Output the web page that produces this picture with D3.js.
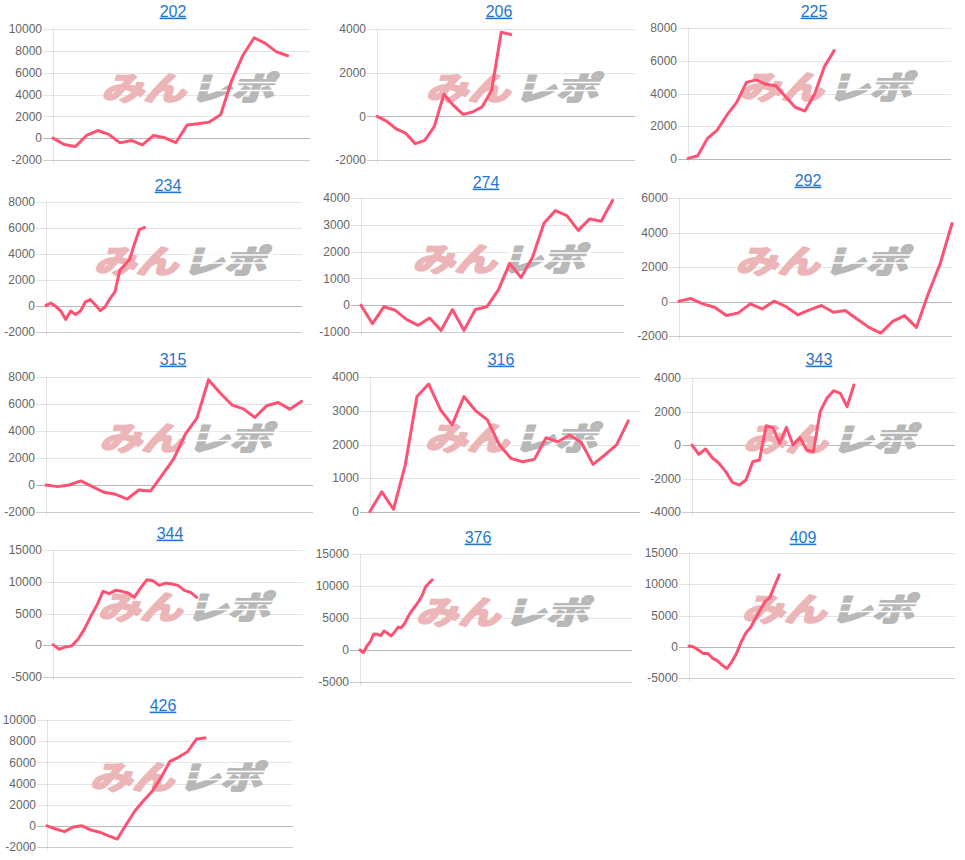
<!DOCTYPE html>
<html><head><meta charset="utf-8">
<script src="https://cdn.jsdelivr.net/npm/d3@7/dist/d3.min.js"></script>
<style>
body{margin:0;background:#fff;}
svg{display:block;}
</style></head><body>
<svg id="c" width="965" height="860"></svg>
<script>
// ---- data ----
const titles = ["202","206","225","234","274","292","315","316","343","344","376","409","426"];
const xLabelCounts = [24,28,28,53,24,24,24,24,40,41,80,57,29];
const yTickMin  = [-2000,-2000,0,-2000,-1000,-2000,-2000,0,-4000,-5000,-5000,-5000,-2000];
const yTickMax  = [10000,4000,8000,8000,4000,6000,8000,4000,4000,15000,15000,15000,10000];
const yTickStep = [2000,2000,2000,2000,1000,2000,2000,1000,2000,5000,5000,5000,2000];

const s202 = [0,-580,-770,250,700,340,-430,-210,-610,250,30,-400,1200,1320,1470,2150,5300,7600,9200,8680,7900,7550];
const s206 = [0,-220,-570,-770,-1250,-1100,-460,1010,500,90,200,430,1200,3850,3750];
const s225 = [40,200,1260,1770,2690,3460,4680,4830,4560,4480,3810,3160,2930,3970,5640,6620];
const s234 = [50,230,-30,-390,-1030,-390,-650,-390,310,490,100,-340,-80,570,1080,2760,3150,3590,4830,5900,6040];
const s274 = [0,-690,-60,-190,-540,-750,-480,-940,-160,-940,-160,-60,560,1560,1030,1790,3060,3530,3340,2790,3220,3130,3910];
const s292 = [20,170,-140,-330,-810,-660,-140,-430,20,-290,-770,-490,-230,-620,-520,-1010,-1500,-1830,-1150,-820,-1500,450,2190,4520];
const s315 = [0,-120,0,300,-120,-540,-690,-1040,-370,-450,740,1930,3760,4950,7800,6810,5940,5640,5000,5870,6110,5620,6190];
const s316 = [20,600,80,1390,3420,3790,3030,2580,3420,3000,2730,2000,1590,1490,1560,2200,2080,2280,2060,1410,1690,1990,2700];
const s343 = [0,-560,-240,-760,-1090,-1590,-2230,-2390,-2090,-1000,-900,1150,1030,100,1050,0,440,-300,-400,1990,2790,3240,3080,2290,3580];
const s344 = [100,-620,-260,-100,940,2500,4480,6250,8490,8130,8650,8490,8230,7550,9010,10310,10160,9430,9790,9640,9430,8650,8330,7550];
const s376 = [0,-420,630,1310,2510,2460,2250,2980,2610,2200,2770,3550,3500,4180,5230,6120,6800,7580,8470,9830,10450,10980];
const s409 = [110,-50,-540,-1070,-1070,-1870,-2250,-2950,-3480,-2410,-1070,800,2250,3110,4550,5890,7230,7870,9750,11510];
const s426 = [0,-300,-550,-100,0,-400,-600,-950,-1250,100,1400,2400,3300,4600,6100,6500,7000,8200,8300];
const seriesValues = [s202,s206,s225,s234,s274,s292,s315,s316,s343,s344,s376,s409,s426];

// ---- layout (plot boxes: left, right, top, bottom; title x, y) ----
const layout = [
  [53,310,29,160,173,11],[377,635,29,160,499,11],[688,951,28,159,814,11],
  [46,302,202,332,168,185],[361,624,198,332,486,182],[679,952,198,336,808,180],
  [46,313,377,512,173,359],[370,640,377,512,501,359],[692,955,378,512,819,359],
  [53,303,550,677,170,533],[360,632,554,682,478,537],[689,955,553,678,803,537],
  [47,293,720,847,163,705]
];

const svg = d3.select("#c");
const LINE = "#ff5272";

titles.forEach((t,i)=>{
  const [L,R,T,B,tx,ty] = layout[i];
  const g = svg.append("g");
  const y = d3.scaleLinear().domain([yTickMin[i], yTickMax[i]]).range([B,T]);
  const x = d3.scaleLinear().domain([0, xLabelCounts[i]-1]).range([L,R]);
  const ticks = d3.range(yTickMin[i], yTickMax[i]+1, yTickStep[i]);

  // gridlines
  g.selectAll("line.grid").data(ticks).join("line")
    .attr("x1", L-10).attr("x2", R)
    .attr("y1", d=>Math.round(y(d))+0.5).attr("y2", d=>Math.round(y(d))+0.5)
    .attr("stroke", d=> d===0 ? "rgba(0,0,0,0.28)" : (d===yTickMin[i] ? "rgba(0,0,0,0.2)" : "rgba(0,0,0,0.1)"))
    .attr("stroke-width",1);
  // left axis line
  g.append("line").attr("x1",Math.round(L)+0.5).attr("x2",Math.round(L)+0.5)
    .attr("y1",T).attr("y2",B+4).attr("stroke","rgba(0,0,0,0.1)");

  // tick labels
  g.selectAll("text.tick").data(ticks).join("text")
    .attr("x", L-11).attr("y", d=>y(d))
    .attr("dy","0.35em").attr("text-anchor","end")
    .attr("font-family","'Liberation Sans', Arial, sans-serif")
    .attr("font-size","12px").attr("fill","#666")
    .text(d=>d);

  // watermark
  const cx = (L+R)/2 + 10, cy = (T+B)/2 - 8;
  const wm = g.append("g").attr("transform",`translate(${cx},${cy}) skewX(-16) scale(1.05,0.8)`);
  wm.append("text").attr("x",-2).attr("y",0).attr("text-anchor","end")
    .attr("dominant-baseline","central")
    .attr("font-family","'Noto Sans CJK JP', sans-serif").attr("font-weight",700)
    .attr("font-size","40px").attr("fill","#ecb6b8")
    .attr("stroke","#ecb6b8").attr("stroke-width",3).attr("stroke-linejoin","round")
    .text("みん");
  wm.append("text").attr("x",2).attr("y",0).attr("text-anchor","start")
    .attr("dominant-baseline","central")
    .attr("font-family","'Noto Sans CJK JP', sans-serif").attr("font-weight",700)
    .attr("font-size","40px").attr("fill","#b8b8b8")
    .attr("stroke","#b8b8b8").attr("stroke-width",3).attr("stroke-linejoin","round")
    .text("レポ");
  [-5, 5].forEach(o=>{
    wm.append("line").attr("x1",4).attr("x2",84).attr("y1",o).attr("y2",o)
      .attr("stroke","#fff").attr("stroke-width",1.6);
  });

  // line
  const vals = seriesValues[i];
  g.append("path").datum(vals)
    .attr("fill","none").attr("stroke",LINE).attr("stroke-width",3)
    .attr("stroke-linejoin","round").attr("stroke-linecap","round")
    .attr("d", d3.line().x((d,k)=>x(k)).y(d=>y(d)));

  // title
  g.append("text").attr("x",tx).attr("y",ty).attr("dy","0.35em")
    .attr("text-anchor","middle")
    .attr("font-family","'Liberation Sans', Arial, sans-serif")
    .attr("font-size","16px").attr("fill","#1f77d0")
    .attr("text-decoration","underline").text(t);
});
</script>
</body></html>
